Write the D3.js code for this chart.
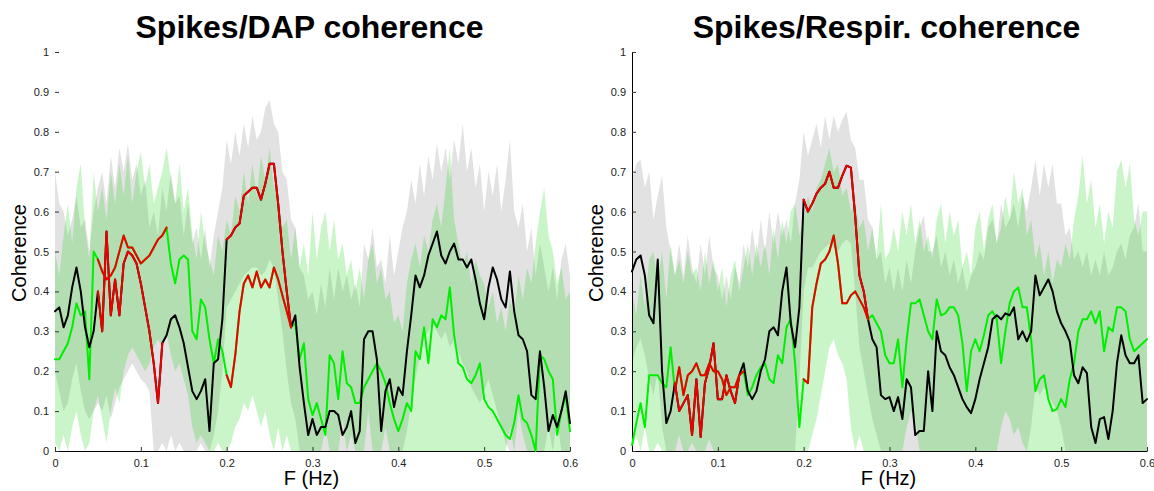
<!DOCTYPE html>
<html>
<head>
<meta charset="utf-8">
<script src="https://cdn.jsdelivr.net/npm/d3@7/dist/d3.min.js"></script>
<style>
  body { margin: 0; background: #fff; }
  svg { display: block; }
  text { font-family: "Liberation Sans", Arial, Helvetica, sans-serif; }
</style>
</head>
<body>
<svg id="chart" width="1154" height="491"></svg>
<script>
// Frequency grid: one value every 0.005 Hz from 0 to 0.6 Hz (121 samples)
const freqStep = 0.005;

const xTicks = [0, 0.1, 0.2, 0.3, 0.4, 0.5, 0.6];
const xTickLabels = ["0", "0.1", "0.2", "0.3", "0.4", "0.5", "0.6"];
const yTicks = [0, 0.1, 0.2, 0.3, 0.4, 0.5, 0.6, 0.7, 0.8, 0.9, 1];
const yTickLabels = ["0", "0.1", "0.2", "0.3", "0.4", "0.5", "0.6", "0.7", "0.8", "0.9", "1"];

// ---------- Spikes / DAP ----------
const dapBlack = [
  0.35,0.36,0.31,0.34,0.41,0.46,0.40,0.31,0.26,0.30,
  0.40,0.30,0.55,0.34,0.43,0.34,0.47,0.50,0.49,0.47,
  0.42,0.36,0.30,0.22,0.12,0.27,0.29,0.33,0.34,0.31,
  0.27,0.21,0.15,0.13,0.15,0.18,0.05,0.22,0.23,0.33,
  0.53,0.54,0.56,0.57,0.64,0.65,0.66,0.66,0.63,0.67,
  0.72,0.72,0.62,0.50,0.40,0.31,0.34,0.21,0.12,0.04,
  0.08,0.04,0.06,0.06,0.10,0.10,0.09,0.04,0.06,0.10,
  0.02,0.05,0.28,0.30,0.30,0.23,0.05,0.15,0.18,0.11,
  0.16,0.14,0.25,0.34,0.44,0.41,0.44,0.49,0.52,0.55,
  0.49,0.47,0.50,0.52,0.48,0.48,0.46,0.48,0.43,0.37,
  0.33,0.41,0.46,0.43,0.38,0.36,0.45,0.35,0.29,0.28,
  0.25,0.14,0.13,0.25,0.16,0.05,0.09,0.06,0.10,0.15,
  0.07
];
const dapGreen = [
  0.23,0.23,0.25,0.27,0.31,0.37,0.34,0.35,0.18,0.50,
  0.48,0.45,0.43,0.44,0.46,0.50,0.54,0.51,0.51,0.49,
  0.47,0.48,0.49,0.51,0.53,0.54,0.56,0.47,0.42,0.48,
  0.49,0.48,0.30,0.28,0.38,0.36,0.28,0.22,0.28,0.25,
  0.19,0.16,0.24,0.35,0.42,0.44,0.41,0.45,0.41,0.43,
  0.41,0.46,0.43,0.39,0.35,0.31,0.32,0.23,0.27,0.13,
  0.09,0.12,0.08,0.04,0.24,0.22,0.13,0.25,0.17,0.16,
  0.12,0.12,0.16,0.18,0.20,0.22,0.20,0.17,0.12,0.08,
  0.05,0.08,0.12,0.10,0.25,0.23,0.31,0.22,0.33,0.31,
  0.34,0.33,0.41,0.29,0.22,0.21,0.18,0.17,0.19,0.22,
  0.13,0.11,0.10,0.08,0.06,0.04,0.03,0.07,0.14,0.08,
  0.07,0.04,0.00,0.24,0.23,0.20,0.18,0.04,0.10,0.14,
  0.05
];
// significant stretches, drawn in red
const dapBlackRed = [[0.05, 0.125], [0.2, 0.275]];
const dapGreenRed = [[0.05, 0.13], [0.2, 0.275]];

// confidence bands
const dapGrayHi = [
  0.70,0.62,0.60,0.54,0.58,0.64,0.56,0.58,0.50,0.60,
  0.66,0.70,0.62,0.74,0.66,0.76,0.70,0.77,0.68,0.72,
  0.64,0.68,0.56,0.60,0.54,0.66,0.60,0.70,0.62,0.64,
  0.54,0.62,0.52,0.56,0.48,0.56,0.46,0.54,0.60,0.66,
  0.78,0.72,0.80,0.74,0.82,0.76,0.84,0.78,0.80,0.86,
  0.88,0.82,0.80,0.70,0.68,0.58,0.56,0.46,0.44,0.38,
  0.40,0.34,0.42,0.36,0.46,0.38,0.46,0.40,0.44,0.38,
  0.42,0.36,0.52,0.48,0.56,0.46,0.48,0.42,0.54,0.44,
  0.50,0.56,0.60,0.68,0.62,0.72,0.64,0.74,0.68,0.77,
  0.70,0.76,0.68,0.78,0.72,0.82,0.70,0.76,0.66,0.72,
  0.60,0.70,0.64,0.72,0.60,0.68,0.78,0.60,0.56,0.62,
  0.50,0.56,0.44,0.52,0.46,0.40,0.46,0.38,0.48,0.52,
  0.44
];
const dapGrayLo = [
  0.20,0.15,0.10,0.12,0.18,0.22,0.15,0.10,0.08,0.10,
  0.12,0.10,0.14,0.08,0.12,0.16,0.18,0.20,0.22,0.20,
  0.18,0.17,0.15,0.00,0.00,0.02,0.00,0.04,0.00,0.02,
  0.00,0.00,0.00,0.00,0.02,0.00,0.00,0.04,0.10,0.20,
  0.36,0.38,0.40,0.42,0.44,0.45,0.46,0.46,0.44,0.45,
  0.48,0.46,0.38,0.30,0.20,0.12,0.08,0.00,0.00,0.00,
  0.00,0.00,0.00,0.00,0.00,0.00,0.00,0.00,0.00,0.00,
  0.00,0.00,0.00,0.00,0.00,0.00,0.00,0.00,0.00,0.00,
  0.00,0.00,0.05,0.12,0.18,0.24,0.28,0.30,0.32,0.30,
  0.28,0.30,0.26,0.28,0.25,0.22,0.20,0.16,0.14,0.12,
  0.15,0.18,0.14,0.10,0.06,0.02,0.00,0.00,0.00,0.00,
  0.00,0.00,0.00,0.00,0.00,0.06,0.00,0.08,0.00,0.00,
  0.00
];
const dapGreenHi = [
  0.50,0.44,0.54,0.62,0.52,0.66,0.72,0.56,0.48,0.70,
  0.60,0.66,0.58,0.70,0.62,0.72,0.64,0.74,0.62,0.70,
  0.75,0.66,0.72,0.62,0.66,0.70,0.76,0.68,0.62,0.72,
  0.60,0.66,0.54,0.48,0.60,0.52,0.48,0.44,0.54,0.50,
  0.58,0.54,0.64,0.60,0.70,0.62,0.72,0.64,0.74,0.68,
  0.76,0.66,0.64,0.56,0.58,0.48,0.56,0.46,0.52,0.44,
  0.60,0.48,0.56,0.60,0.50,0.58,0.48,0.52,0.44,0.48,
  0.40,0.46,0.38,0.48,0.52,0.42,0.46,0.38,0.40,0.32,
  0.34,0.30,0.42,0.48,0.52,0.46,0.54,0.50,0.58,0.62,
  0.56,0.66,0.76,0.58,0.52,0.46,0.50,0.42,0.48,0.44,
  0.42,0.36,0.40,0.32,0.36,0.30,0.38,0.34,0.44,0.38,
  0.46,0.42,0.52,0.60,0.66,0.54,0.50,0.42,0.46,0.38,
  0.40
];
const dapGreenLo = [
  0.02,0.00,0.04,0.00,0.06,0.10,0.04,0.00,0.02,0.10,
  0.14,0.08,0.02,0.10,0.16,0.12,0.20,0.24,0.26,0.24,
  0.22,0.20,0.22,0.26,0.28,0.26,0.30,0.24,0.20,0.22,
  0.18,0.14,0.06,0.02,0.04,0.02,0.00,0.00,0.02,0.00,
  0.00,0.02,0.06,0.08,0.12,0.10,0.14,0.10,0.06,0.10,
  0.04,0.00,0.06,0.00,0.04,0.00,0.00,0.00,0.00,0.00,
  0.00,0.00,0.00,0.06,0.00,0.00,0.00,0.08,0.00,0.04,
  0.00,0.00,0.00,0.10,0.00,0.00,0.00,0.06,0.00,0.00,
  0.00,0.00,0.00,0.00,0.00,0.00,0.00,0.00,0.00,0.00,
  0.00,0.00,0.00,0.00,0.00,0.00,0.00,0.00,0.00,0.00,
  0.00,0.00,0.00,0.00,0.00,0.00,0.06,0.00,0.10,0.04,
  0.00,0.00,0.00,0.00,0.00,0.00,0.00,0.00,0.00,0.00,
  0.00
];

// ---------- Spikes / Respiration ----------
const respBlack = [
  0.45,0.48,0.49,0.44,0.34,0.32,0.48,0.20,0.07,0.10,
  0.17,0.10,0.12,0.14,0.04,0.18,0.035,0.17,0.21,0.27,
  0.13,0.13,0.19,0.15,0.12,0.19,0.22,0.15,0.13,0.15,
  0.20,0.23,0.30,0.31,0.29,0.40,0.46,0.32,0.26,0.36,
  0.63,0.60,0.62,0.645,0.66,0.67,0.70,0.66,0.66,0.69,
  0.715,0.71,0.59,0.44,0.40,0.33,0.28,0.26,0.14,0.13,
  0.135,0.10,0.135,0.08,0.18,0.16,0.04,0.05,0.05,0.20,
  0.10,0.30,0.25,0.24,0.21,0.19,0.16,0.13,0.11,0.095,
  0.13,0.18,0.22,0.26,0.33,0.34,0.33,0.345,0.34,0.36,
  0.28,0.30,0.275,0.30,0.44,0.39,0.41,0.43,0.40,0.35,
  0.32,0.30,0.275,0.19,0.17,0.21,0.195,0.06,0.02,0.08,
  0.085,0.03,0.10,0.22,0.29,0.24,0.22,0.22,0.24,0.12,
  0.13
];
const respGreen = [
  0.015,0.07,0.12,0.06,0.19,0.19,0.19,0.17,0.16,0.26,
  0.15,0.21,0.14,0.19,0.20,0.22,0.19,0.19,0.22,0.20,
  0.20,0.18,0.14,0.16,0.16,0.19,0.20,0.14,0.16,0.19,
  0.21,0.22,0.18,0.17,0.24,0.22,0.31,0.33,0.22,0.06,
  0.18,0.17,0.36,0.42,0.47,0.48,0.50,0.54,0.47,0.37,
  0.37,0.39,0.40,0.38,0.36,0.33,0.34,0.32,0.30,0.24,
  0.22,0.22,0.28,0.16,0.28,0.37,0.37,0.38,0.34,0.30,
  0.28,0.38,0.34,0.345,0.36,0.36,0.34,0.27,0.15,0.25,
  0.28,0.25,0.29,0.34,0.35,0.33,0.22,0.30,0.37,0.40,
  0.41,0.36,0.36,0.28,0.15,0.18,0.19,0.13,0.10,0.105,
  0.13,0.11,0.18,0.22,0.30,0.33,0.33,0.35,0.32,0.35,
  0.25,0.31,0.30,0.36,0.36,0.35,0.28,0.25,0.26,0.27,
  0.28
];
const respBlackRed = [[0.05, 0.125], [0.2, 0.275]];
const respGreenRed = [[0.05, 0.13], [0.2, 0.275]];

const respGrayHi = [
  0.68,0.72,0.73,0.66,0.70,0.58,0.64,0.69,0.56,0.50,
  0.44,0.52,0.44,0.54,0.46,0.42,0.52,0.44,0.54,0.46,
  0.44,0.38,0.44,0.38,0.46,0.42,0.52,0.46,0.56,0.48,
  0.58,0.50,0.60,0.52,0.60,0.54,0.58,0.52,0.62,0.68,
  0.80,0.74,0.78,0.82,0.76,0.84,0.78,0.84,0.80,0.83,
  0.85,0.78,0.76,0.68,0.68,0.58,0.56,0.48,0.50,0.42,
  0.46,0.40,0.46,0.40,0.48,0.42,0.50,0.56,0.59,0.50,
  0.50,0.54,0.46,0.50,0.44,0.48,0.42,0.46,0.40,0.44,
  0.46,0.50,0.48,0.56,0.58,0.52,0.62,0.56,0.58,0.62,
  0.56,0.64,0.60,0.66,0.73,0.64,0.72,0.66,0.72,0.62,
  0.62,0.54,0.56,0.48,0.50,0.46,0.50,0.44,0.48,0.44,
  0.50,0.44,0.46,0.50,0.52,0.48,0.54,0.56,0.62,0.50,
  0.50
];
const respGrayLo = [
  0.22,0.26,0.28,0.24,0.18,0.14,0.20,0.06,0.00,0.00,
  0.00,0.00,0.00,0.00,0.00,0.00,0.00,0.00,0.00,0.00,
  0.00,0.00,0.00,0.00,0.00,0.00,0.00,0.00,0.00,0.00,
  0.00,0.00,0.00,0.00,0.00,0.00,0.00,0.00,0.00,0.18,
  0.40,0.46,0.46,0.48,0.50,0.51,0.52,0.51,0.50,0.52,
  0.53,0.52,0.40,0.26,0.20,0.14,0.08,0.04,0.00,0.00,
  0.00,0.00,0.00,0.00,0.00,0.00,0.00,0.00,0.00,0.00,
  0.00,0.00,0.00,0.00,0.00,0.00,0.00,0.00,0.00,0.00,
  0.00,0.00,0.00,0.00,0.00,0.00,0.00,0.00,0.00,0.00,
  0.00,0.00,0.00,0.06,0.16,0.14,0.16,0.14,0.12,0.10,
  0.06,0.00,0.00,0.00,0.00,0.00,0.00,0.00,0.00,0.00,
  0.00,0.00,0.00,0.00,0.00,0.00,0.00,0.00,0.00,0.00,
  0.00
];
const respGreenHi = [
  0.40,0.34,0.44,0.36,0.48,0.50,0.42,0.50,0.38,0.52,
  0.44,0.48,0.42,0.50,0.44,0.46,0.40,0.50,0.42,0.48,
  0.40,0.46,0.36,0.44,0.48,0.40,0.46,0.52,0.44,0.52,
  0.46,0.52,0.44,0.56,0.48,0.58,0.52,0.60,0.62,0.54,
  0.58,0.64,0.60,0.66,0.68,0.72,0.76,0.70,0.72,0.64,
  0.66,0.60,0.62,0.56,0.58,0.50,0.56,0.48,0.62,0.48,
  0.50,0.56,0.50,0.60,0.54,0.62,0.52,0.58,0.50,0.54,
  0.48,0.58,0.62,0.52,0.60,0.54,0.58,0.46,0.50,0.44,
  0.56,0.60,0.50,0.58,0.62,0.52,0.56,0.64,0.58,0.70,
  0.62,0.66,0.54,0.58,0.48,0.52,0.44,0.50,0.42,0.48,
  0.46,0.52,0.48,0.58,0.64,0.74,0.62,0.68,0.56,0.62,
  0.52,0.60,0.56,0.70,0.73,0.66,0.72,0.58,0.54,0.60,
  0.60
];
const respGreenLo = [
  0.00,0.04,0.00,0.06,0.00,0.00,0.02,0.00,0.00,0.00,
  0.00,0.04,0.00,0.00,0.02,0.00,0.00,0.00,0.03,0.00,
  0.00,0.00,0.00,0.00,0.00,0.00,0.00,0.00,0.00,0.00,
  0.00,0.00,0.00,0.00,0.00,0.00,0.00,0.00,0.00,0.00,
  0.00,0.00,0.04,0.08,0.14,0.20,0.26,0.28,0.24,0.22,
  0.18,0.06,0.00,0.04,0.00,0.00,0.00,0.00,0.00,0.00,
  0.00,0.00,0.00,0.00,0.06,0.10,0.08,0.00,0.00,0.00,
  0.00,0.00,0.00,0.00,0.00,0.00,0.00,0.00,0.00,0.00,
  0.00,0.00,0.00,0.00,0.00,0.00,0.06,0.10,0.08,0.04,
  0.06,0.02,0.00,0.00,0.00,0.00,0.00,0.00,0.00,0.00,
  0.00,0.00,0.00,0.00,0.00,0.00,0.00,0.00,0.00,0.00,
  0.00,0.00,0.00,0.00,0.00,0.00,0.00,0.00,0.00,0.00,
  0.00
];

// ---------- layout ----------
const svg = d3.select("#chart");
const plotTop = 52, plotBottom = 451;

const panels = [
  { title: "Spikes/DAP coherence", left: 55, right: 570, showYLine: false, ylabelX: 26,
    black: dapBlack, green: dapGreen, blackRed: dapBlackRed, greenRed: dapGreenRed,
    grayLo: dapGrayLo, grayHi: dapGrayHi, greenLo: dapGreenLo, greenHi: dapGreenHi },
  { title: "Spikes/Respir. coherence", left: 632, right: 1147, showYLine: true, ylabelX: 603,
    black: respBlack, green: respGreen, blackRed: respBlackRed, greenRed: respGreenRed,
    grayLo: respGrayLo, grayHi: respGrayHi, greenLo: respGreenLo, greenHi: respGreenHi }
];

function drawPanel(p) {
  const x = d3.scaleLinear().domain([0, 0.6]).range([p.left, p.right]);
  const y = d3.scaleLinear().domain([0, 1]).range([plotBottom, plotTop]);
  const freq = p.black.map((_, i) => i * freqStep);
  const g = svg.append("g");

  const band = (lo, hi) => d3.area()
    .x((d, i) => x(freq[i]))
    .y0((d, i) => y(lo[i]))
    .y1((d, i) => y(hi[i]))(lo);

  // black-line confidence band (grey), then green-line band (translucent green)
  g.append("path").attr("d", band(p.grayLo, p.grayHi)).attr("fill", "#e2e2e2");
  g.append("path").attr("d", band(p.greenLo, p.greenHi))
    .attr("fill", "rgb(0,210,0)").attr("fill-opacity", 0.21);

  // axes
  const xAxis = d3.axisBottom(x).tickValues(xTicks)
    .tickFormat((d, i) => xTickLabels[i]).tickSizeInner(-4).tickSizeOuter(0).tickPadding(8);
  const yAxis = d3.axisLeft(y).tickValues(yTicks)
    .tickFormat((d, i) => yTickLabels[i]).tickSizeInner(-4).tickSizeOuter(0).tickPadding(6);

  const gx = g.append("g").attr("transform", `translate(0,${plotBottom})`).call(xAxis);
  const gy = g.append("g").attr("transform", `translate(${p.left},0)`).call(yAxis);
  [gx, gy].forEach(a => {
    a.selectAll("text").attr("font-size", 11).attr("fill", "#222")
      .attr("font-family", "'Liberation Sans', Arial, sans-serif");
    a.selectAll("line").attr("stroke", "#333");
    a.select(".domain").attr("stroke", "#000");
  });
  if (!p.showYLine) gy.select(".domain").remove();

  // coherence curves
  const line = d3.line().x(d => x(d[0])).y(d => y(d[1]));
  const pts = arr => arr.map((v, i) => [freq[i], v]);
  const inRange = (r) => d => d[0] >= r[0] - 1e-9 && d[0] <= r[1] + 1e-9;
  const stroke = (sel, c) => sel.attr("fill", "none").attr("stroke", c)
    .attr("stroke-width", 2).attr("stroke-linejoin", "round").attr("stroke-linecap", "round");

  stroke(g.append("path").attr("d", line(pts(p.green))), "#00ee00");
  stroke(g.append("path").attr("d", line(pts(p.black))), "#000");
  p.greenRed.forEach(r => stroke(g.append("path").attr("d", line(pts(p.green).filter(inRange(r)))), "#ee0000"));
  p.blackRed.forEach(r => stroke(g.append("path").attr("d", line(pts(p.black).filter(inRange(r)))), "#ee0000"));

  // texts
  const cx = (p.left + p.right) / 2;
  svg.append("text").attr("x", cx - 3).attr("y", 38).attr("text-anchor", "middle")
    .attr("font-size", 32).attr("font-weight", "bold").attr("fill", "#000").text(p.title);
  svg.append("text").attr("transform", `translate(${p.ylabelX},253) rotate(-90)`)
    .attr("text-anchor", "middle").attr("font-size", 20).attr("fill", "#000").text("Coherence");
  svg.append("text").attr("x", cx - 1).attr("y", 485).attr("text-anchor", "middle")
    .attr("font-size", 20).attr("fill", "#000").text("F (Hz)");
}

panels.forEach(drawPanel);
</script>
</body>
</html>
